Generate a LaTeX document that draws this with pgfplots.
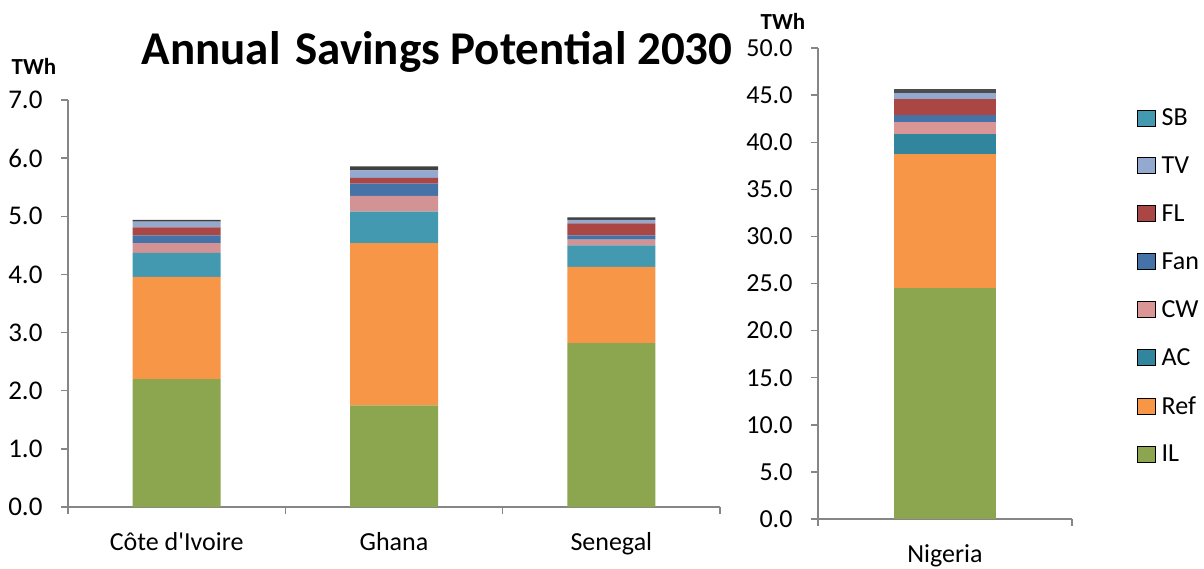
\documentclass[border=0pt]{standalone}
\usepackage{pgfplots}
\pgfplotsset{compat=1.18}
\usepackage{fontspec}
\setmainfont{Carlito}
\definecolor{cIL}{HTML}{8CA64F}
\definecolor{cRef}{HTML}{F79646}
\definecolor{cACl}{HTML}{4399B0}
\definecolor{cAC}{HTML}{31859C}
\definecolor{cCWl}{HTML}{D39394}
\definecolor{cCW}{HTML}{DA9694}
\definecolor{cFan}{HTML}{4572A7}
\definecolor{cFL}{HTML}{AA4643}
\definecolor{cTV}{HTML}{93A9CF}
\definecolor{cTop}{HTML}{404040}
\definecolor{cTopR}{HTML}{4D4D4D}
\definecolor{cSB}{HTML}{4399B0}
\definecolor{axgray}{HTML}{868686}
\pgfplotsset{
  common/.style={
    scale only axis,
    ybar stacked,
    axis lines=left,
    axis line style={draw=axgray, line width=1.4pt, -},
    tick style={draw=axgray, line width=1.4pt},
    tick align=outside,
    major tick length=7pt,
    ymin=0,
    tick label style={font=\fontsize{26}{30}\selectfont},
    yticklabel style={/pgf/number format/fixed, /pgf/number format/fixed zerofill, /pgf/number format/precision=1, xshift=-15pt},
    /pgf/number format/assume math mode=true,
    xticklabels={},
    extra x tick style={major tick length=0pt, tick style={draw=none}, xticklabel style={yshift=-22pt}},
  },
  sw/.style={legend image code/.code={\fill[##1] (0pt,0pt) rectangle (18pt,16pt);}}
}
\begin{document}
\begin{tikzpicture}[x=1pt,y=1pt]
\useasboundingbox (0,0) rectangle (1204,568);
\begin{axis}[common,
  at={(68pt,61pt)}, anchor=south west,
  width=652pt, height=407pt,
  xmin=-0.5, xmax=2.5, ymax=7,
  bar width=88pt,
  ytick={0,1,...,7},
  yticklabel style={font=\fontsize{27}{30}\selectfont},
  xtick={-0.5,0.5,1.5,2.5},
  extra x ticks={0,1,2},
  extra x tick labels={C\^ote d\textquotesingle Ivoire, Ghana, Senegal},
]
\addplot[fill=cIL, draw=none] coordinates {(0,2.20) (1,1.75) (2,2.82)};
\addplot[fill=cRef, draw=none] coordinates {(0,1.76) (1,2.79) (2,1.31)};
\addplot[fill=cACl, draw=none] coordinates {(0,0.41) (1,0.54) (2,0.37)};
\addplot[fill=cCWl, draw=none] coordinates {(0,0.17) (1,0.27) (2,0.10)};
\addplot[fill=cFan, draw=none] coordinates {(0,0.13) (1,0.21) (2,0.07)};
\addplot[fill=cFL, draw=none] coordinates {(0,0.14) (1,0.10) (2,0.21)};
\addplot[fill=cTV, draw=none] coordinates {(0,0.10) (1,0.13) (2,0.06)};
\addplot[fill=cTop, draw=none] coordinates {(0,0.03) (1,0.07) (2,0.04)};
\end{axis}
\begin{axis}[common,
  at={(818pt,49pt)}, anchor=south west,
  width=254pt, height=471pt,
  xmin=-0.5, xmax=0.5, ymax=50,
  bar width=102pt,
  ytick={0,5,...,50},
  xtick={-0.5,0.5},
  extra x ticks={0},
  extra x tick labels={Nigeria},
  legend style={draw=none, fill=none, at={(1.256,0.871)}, anchor=north west,
    inner sep=0pt, row sep=29.6pt, font=\fontsize{26}{30}\selectfont,
    nodes={inner sep=0pt, anchor=base west}, column sep=6pt},
  legend cell align=left,
]
\addlegendimage{sw, fill=cSB}\addlegendentry{SB}
\addlegendimage{sw, fill=cTV}\addlegendentry{TV}
\addlegendimage{sw, fill=cFL}\addlegendentry{FL}
\addlegendimage{sw, fill=cFan}\addlegendentry{Fan}
\addlegendimage{sw, fill=cCW}\addlegendentry{CW}
\addlegendimage{sw, fill=cAC}\addlegendentry{AC}
\addlegendimage{sw, fill=cRef}\addlegendentry{Ref}
\addlegendimage{sw, fill=cIL}\addlegendentry{IL}
\addplot[fill=cIL, draw=none] coordinates {(0,24.5)};
\addplot[fill=cRef, draw=none] coordinates {(0,14.2)};
\addplot[fill=cAC, draw=none] coordinates {(0,2.15)};
\addplot[fill=cCW, draw=none] coordinates {(0,1.25)};
\addplot[fill=cFan, draw=none] coordinates {(0,0.80)};
\addplot[fill=cFL, draw=none] coordinates {(0,1.70)};
\addplot[fill=cTV, draw=none] coordinates {(0,0.65)};
\addplot[fill=cTopR, draw=none] coordinates {(0,0.45)};
\end{axis}
\node[anchor=base, font=\bfseries\fontsize{47}{52}\selectfont, inner sep=0pt] at (437,503) {Annual\hspace{4pt} Savings Potential 2030};
\node[anchor=center, font=\bfseries\fontsize{23}{26}\selectfont, inner sep=0pt] at (34,502) {TWh};
\node[anchor=center, font=\bfseries\fontsize{23}{26}\selectfont, inner sep=0pt] at (783,547) {TWh};
\end{tikzpicture}
\end{document}
